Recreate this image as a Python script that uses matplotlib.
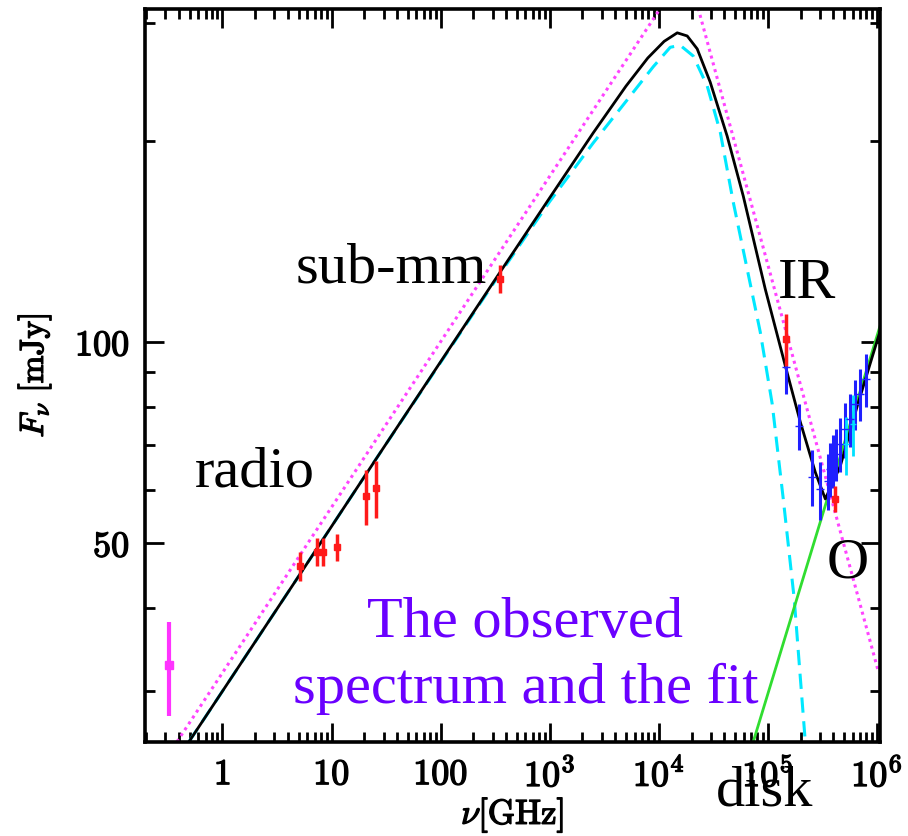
import numpy as np
import matplotlib
matplotlib.use('Agg')
from matplotlib import pyplot as plt
from matplotlib import patheffects as pe
from matplotlib.ticker import FixedLocator, FixedFormatter, LogLocator, NullFormatter

plt.rcParams['mathtext.fontset'] = 'cm'

# data points (GHz, mJy)
radio_nu = [5.1, 7.4, 8.4, 11.2, 20.7, 25.6]
radio_F = [46.2, 48.5, 48.5, 49.3, 58.8, 60.4]
radio_err = [2.3, 2.3, 2.3, 2.3, 5.6, 5.9]

submm_nu = [351.]
submm_F = [124.3]
submm_err = [6.0]

ir_red_nu = [1.48e5, 4.16e5]
ir_red_F = [101., 58.2]
ir_red_err = [9.0, 2.6]

opt_nu = [1.47e5, 1.95e5, 2.56e5, 3.03e5, 3.55e5, 3.74e5, 4.0e5, 4.25e5, 4.63e5,
          5.14e5, 5.71e5, 6.35e5, 7.06e5, 8.02e5]
opt_F = [91.7, 74.8, 62.8, 60.2, 62.0, 64.5, 66.5, 68.0, 70.4, 74.1, 76.7, 80.8, 83.6, 88.0]
opt_err = [8, 6, 6, 6, 6, 6, 6, 6, 6.5, 7, 7, 7, 7.5, 8]

cyan_nu = [5.25e5, 6.09e5]
cyan_F = [70.3, 75.4]
cyan_err = [7, 8]

low_nu = [0.323]
low_F = [32.8]
low_err = [5.3]

# fitted curves
fit_nu = [0.493, 5.14, 26.1, 337, 1000, 2512, 5012, 7943, 11220, 14790, 18250, 22540,
          29650, 42460, 59570, 94830, 144800, 198700, 272900, 337000, 462500, 662000, 1.122e6]
fit_F = [25.2, 44.9, 67.1, 125.9, 164.3, 205.6, 241.5, 266.1, 281.8, 290.2, 287.1, 274.6,
         244.9, 203.2, 165.4, 120.0, 92.1, 75.9, 63.8, 58.2, 65.2, 80.2, 106.4]

sync_nu = [0.493, 5.14, 26.1, 337, 1000, 2512, 5012, 8913, 12760, 15740, 20740, 27860,
           36660, 48220, 85310, 109900, 138700, 174900, 220800]
sync_F = [25.2, 44.9, 67.1, 125.3, 162.2, 198.6, 229.1, 258.2, 276.1, 278.0, 267.9, 241.6,
          206.2, 162.0, 103.5, 80.7, 58.2, 41.2, 25.2]

pl_low_nu = [0.383, 10250]
pl_low_F = [25.2, 315.]
pl_high_nu = [23000, 1.033e6]
pl_high_F = [316., 32.1]

disk_nu = [73600, 1.064e6]
disk_F = [25.2, 105.3]

fig = plt.figure(figsize=(9.08, 8.37), dpi=100)
ax = fig.add_axes([0.1597, 0.1123, 0.8095, 0.8757])
ax.set_xscale('log')
ax.set_yscale('log')

ax.plot(pl_low_nu, pl_low_F, color='#ff44ff', lw=2.2, ls=(0, (1, 1.3)))
ax.plot(pl_high_nu, pl_high_F, color='#ff44ff', lw=2.2, ls=(0, (1, 1.3)))
ax.plot(sync_nu, sync_F, color='#00e8ff', lw=2.2, ls=(0, (5, 2.8)))
ax.plot(disk_nu, disk_F, color='#30dd30', lw=2)
ax.plot(fit_nu, fit_F, color='black', lw=2)

ax.errorbar(radio_nu, radio_F, yerr=radio_err, fmt='s', ms=4, color='#ff1a1a', elinewidth=2.5)
ax.errorbar(submm_nu, submm_F, yerr=submm_err, fmt='s', ms=4, color='#ff1a1a', elinewidth=2.5)
ax.errorbar(opt_nu, opt_F, yerr=opt_err, fmt='_', ms=6, color='#2020ff', elinewidth=2.2)
ax.errorbar(cyan_nu, cyan_F, yerr=cyan_err, fmt='_', ms=5, color='#00e0ff', elinewidth=2)
ax.errorbar(ir_red_nu, ir_red_F, yerr=ir_red_err, fmt='s', ms=4, color='#ff1a1a', elinewidth=2.5)
ax.errorbar(low_nu, low_F, yerr=low_err, fmt='s', ms=6, color='#ff33ff', elinewidth=3)

ax.set_xlim(0.195, 1.07e6)
ax.set_ylim(25.18, 315.)

xt = [1, 10, 100, 1e3, 1e4, 1e5, 1e6]
xl = [r'$\mathbf{1}$', r'$\mathbf{10}$', r'$\mathbf{100}$', r'$\mathbf{10^3}$',
      r'$\mathbf{10^4}$', r'$\mathbf{10^5}$', r'$\mathbf{10^6}$']
ax.xaxis.set_major_locator(FixedLocator(xt))
ax.xaxis.set_major_formatter(FixedFormatter(xl))
ax.xaxis.set_minor_locator(LogLocator(base=10, subs=np.arange(2, 10), numticks=20))
ax.xaxis.set_minor_formatter(NullFormatter())

yt = [50, 100]
ax.yaxis.set_major_locator(FixedLocator(yt))
ax.yaxis.set_major_formatter(FixedFormatter([r'$\mathbf{50}$', r'$\mathbf{100}$']))
ax.yaxis.set_minor_locator(FixedLocator([30, 40, 60, 70, 80, 90, 200, 300]))
ax.yaxis.set_minor_formatter(NullFormatter())

ax.tick_params(which='both', direction='in', top=True, right=True, labelsize=26, pad=11)
ax.tick_params(which='major', length=14, width=2)
ax.tick_params(which='minor', length=7, width=2)
for s in ax.spines.values():
    s.set_linewidth(2.6)

bold = [pe.withStroke(linewidth=1.0, foreground='black')]
for lab in ax.get_xticklabels() + ax.get_yticklabels():
    lab.set_path_effects(bold)

ax.set_xlabel(r'$\nu[\mathrm{GHz}]$', fontsize=25, labelpad=2, path_effects=bold)
ax.set_ylabel(r'$F_\nu\ [\mathrm{mJy}]$', fontsize=24, labelpad=16, path_effects=bold)

tf = dict(family='Liberation Serif', fontsize=42)
ax.text(0.56, 60.9, 'radio', ha='left', va='baseline', **tf)
ax.text(4.72, 123.0, 'sub-mm', ha='left', va='baseline', **tf)
ax.text(1.248e5, 116.8, 'IR', ha='left', va='baseline', **tf)
ax.text(3.44e5, 44.5, 'O', ha='left', va='baseline', **tf)
ax.text(33700, 20.3, 'disk', ha='left', va='baseline', clip_on=False, **tf)
ax.text(600, 36.3, 'The observed', ha='center', va='baseline', color='#6a00ff', **tf)
ax.text(600, 28.9, 'spectrum and the fit', ha='center', va='baseline', color='#6a00ff', **tf)

fig.savefig('out.png', dpi=100)
